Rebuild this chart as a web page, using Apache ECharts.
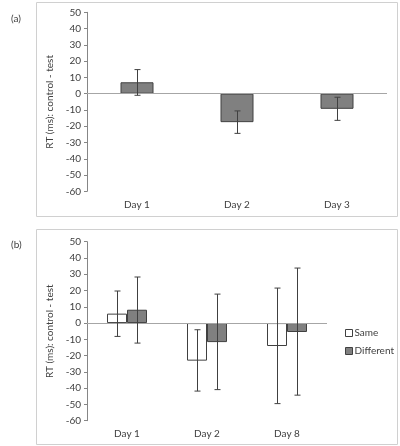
<!DOCTYPE html>
<html>
<head>
<meta charset="utf-8">
<script src="https://cdn.jsdelivr.net/npm/echarts@6/dist/echarts.min.js"></script>
<style>
  html, body { margin: 0; padding: 0; background: #fff; }
  #chart { width: 400px; height: 446px; }
</style>
</head>
<body>
<div id="chart"></div>
<script>
// panel (a)
var daysA = ['Day 1', 'Day 2', 'Day 3'];
var meanA = [7, -17.5, -9.3];
var hiA = [14.8, -10.6, -2.2];
var loA = [-1, -24.4, -16.4];

// panel (b)
var daysB = ['Day 1', 'Day 2', 'Day 8'];
var sameMean = [5.8, -23.1, -14.1];
var sameHi = [19.7, -4.1, 21.5];
var sameLo = [-8.2, -41.8, -49.5];
var diffMean = [8.2, -11.7, -5.5];
var diffHi = [28.3, 17.8, 33.8];
var diffLo = [-12.3, -40.9, -44.3];

var yTicks = { min: -60, max: 50, interval: 10 };

var txt = '#404040';
var font = 'Lato';

var dom = document.getElementById('chart');
var myChart = echarts.init(dom);

function errBars(shift) {
    return function (params, api) {
        var x = api.value(0);
        var top = api.coord([x, api.value(1)]);
        var bot = api.coord([x, api.value(2)]);
        var cx = Math.round(top[0] + shift) + 0.5;
        var style = { stroke: '#404040', lineWidth: 1 };
        return {
            type: 'group',
            children: [
                { type: 'line', shape: { x1: cx, y1: top[1], x2: cx, y2: bot[1] }, style: style },
                { type: 'line', shape: { x1: cx - 3, y1: top[1], x2: cx + 3, y2: top[1] }, style: style },
                { type: 'line', shape: { x1: cx - 3, y1: bot[1], x2: cx + 3, y2: bot[1] }, style: style }
            ]
        };
    };
}

function yAx(idx) {
    return {
        gridIndex: idx,
        type: 'value',
        min: yTicks.min, max: yTicks.max, interval: yTicks.interval,
        name: 'RT (ms): control - test',
        nameLocation: 'middle',
        nameGap: 29,
        nameTextStyle: { color: txt, fontSize: 10, fontFamily: font },
        axisLine: { show: true, lineStyle: { color: '#868686' } },
        axisTick: { show: true, length: 3, lineStyle: { color: '#868686' } },
        axisLabel: { color: txt, fontSize: 10, fontFamily: font, margin: 6 },
        splitLine: { show: false }
    };
}

function xAx(idx, cats) {
    return {
        gridIndex: idx,
        type: 'category',
        data: cats,
        axisLine: { show: false, onZero: false },
        axisTick: { show: false },
        axisLabel: { color: txt, fontSize: 10, fontFamily: font, margin: 8 }
    };
}

var zeroLine = {
    silent: true,
    symbol: 'none',
    label: { show: false },
    lineStyle: { color: '#a6a6a6', type: 'solid', width: 1 },
    data: [{ yAxis: 0 }]
};

option = {
    animation: false,
    textStyle: { fontFamily: font },
    title: [
        { text: '(a)', left: 6, top: 9, textStyle: { fontSize: 10, fontWeight: 'normal', color: txt, fontFamily: font } },
        { text: '(b)', left: 6, top: 235, textStyle: { fontSize: 10, fontWeight: 'normal', color: txt, fontFamily: font } }
    ],
    graphic: [
        { type: 'rect', shape: { x: 36.5, y: 2.5, width: 361, height: 214 }, style: { fill: 'none', stroke: '#d0d0d0' }, z: -1 },
        { type: 'rect', shape: { x: 36.5, y: 229.5, width: 361, height: 215 }, style: { fill: 'none', stroke: '#d0d0d0' }, z: -1 }
    ],
    legend: {
        orient: 'vertical',
        left: 340,
        top: 323,
        itemWidth: 7,
        itemHeight: 7,
        itemGap: 8,
        icon: 'rect',
        textStyle: { color: txt, fontSize: 10, fontFamily: font, padding: [0, 0, 0, -3] },
        data: [
            { name: 'Same', itemStyle: { color: '#ffffff', borderColor: '#404040', borderWidth: 1 } },
            { name: 'Different', itemStyle: { color: '#808080', borderColor: '#404040', borderWidth: 1 } }
        ]
    },
    grid: [
        { left: 87, top: 12.3, width: 300, height: 179 },
        { left: 87, top: 241.7, width: 240, height: 179 }
    ],
    xAxis: [xAx(0, daysA), xAx(1, daysB)],
    yAxis: [yAx(0), yAx(1)],
    series: [
        {
            type: 'bar', xAxisIndex: 0, yAxisIndex: 0,
            data: meanA, barWidth: 33,
            itemStyle: { color: '#808080', borderColor: '#404040', borderWidth: 1 },
            markLine: zeroLine
        },
        {
            type: 'custom', xAxisIndex: 0, yAxisIndex: 0,
            data: daysA.map(function (d, i) { return [i, hiA[i], loA[i]]; }),
            renderItem: errBars(0), z: 10
        },
        {
            name: 'Same', type: 'bar', xAxisIndex: 1, yAxisIndex: 1,
            data: sameMean, barWidth: 20, barGap: '0%',
            itemStyle: { color: '#ffffff', borderColor: '#404040', borderWidth: 1 },
            markLine: zeroLine
        },
        {
            name: 'Different', type: 'bar', xAxisIndex: 1, yAxisIndex: 1,
            data: diffMean, barWidth: 20, barGap: '0%',
            itemStyle: { color: '#808080', borderColor: '#404040', borderWidth: 1 }
        },
        {
            type: 'custom', xAxisIndex: 1, yAxisIndex: 1,
            data: daysB.map(function (d, i) { return [i, sameHi[i], sameLo[i]]; }),
            renderItem: errBars(-10), z: 10
        },
        {
            type: 'custom', xAxisIndex: 1, yAxisIndex: 1,
            data: daysB.map(function (d, i) { return [i, diffHi[i], diffLo[i]]; }),
            renderItem: errBars(10), z: 10
        }
    ]
};
myChart.setOption(option, true);
</script>
</body>
</html>
